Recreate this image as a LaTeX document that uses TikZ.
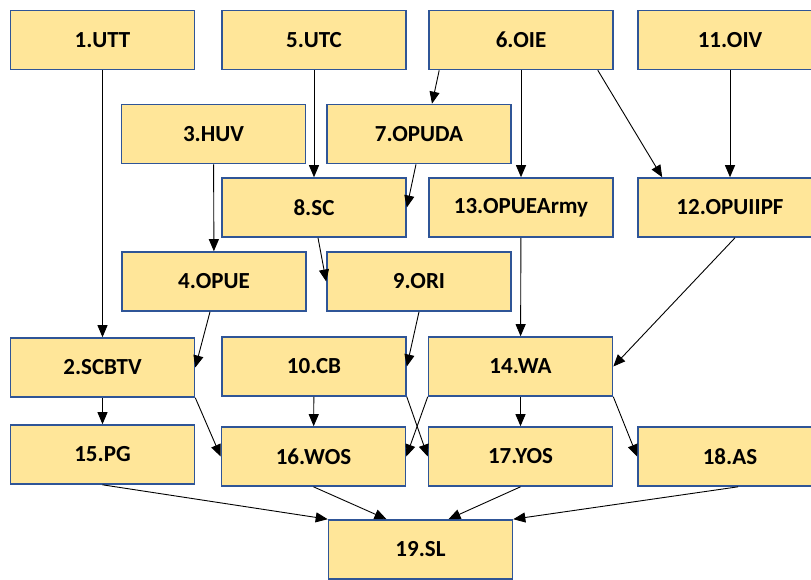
\documentclass[tikz,border=0pt]{standalone}
\usepackage{fontspec}
\setmainfont{Carlito}
\usepackage{tikz}
\usetikzlibrary{arrows.meta}
\definecolor{BoxGold}{RGB}{255,230,153}
\definecolor{BoxBlue}{RGB}{47,85,151}

\begin{document}
\begin{tikzpicture}[
    x=1pt, y=-1pt,
    box/.style={rectangle, draw=BoxBlue, fill=BoxGold, line width=1.6pt,
                minimum width=184pt, minimum height=59pt, inner sep=0pt,
                font=\fontsize{23}{27}\selectfont\bfseries},
    arr/.style={-{Triangle[length=12pt,width=10pt]}, line width=0.9pt, black}
]
\useasboundingbox (0,0) rectangle (811,579);
\fill[white] (0,0) rectangle (811,579);
% top row
\node[box] (n1) at (102.5,40) {1.UTT};
\node[box] (n5) at (314,40) {5.UTC};
\node[box] (n6) at (521,40) {6.OIE};
\node[box] (n11) at (730,40) {11.OIV};
% middle rows
\node[box] (n3) at (213.5,134) {3.HUV};
\node[box] (n7) at (419,134) {7.OPUDA};
\node[box] (n8) at (314,207.5) {8.SC};
\node[box] (n13) at (521,207.5) {13.OPUEArmy};
\node[box] (n12) at (730,207.5) {12.OPUIIPF};
\node[box] (n4) at (214,281.5) {4.OPUE};
\node[box] (n9) at (419,281.5) {9.ORI};
\node[box] (n2) at (102.5,367.5) {2.SCBTV};
\node[box] (n10) at (314,366.5) {10.CB};
\node[box] (n14) at (520.5,366.5) {14.WA};
% bottom rows
\node[box] (n15) at (102.5,454.5) {15.PG};
\node[box] (n16) at (313.5,456.5) {16.WOS};
\node[box] (n17) at (520.5,456.5) {17.YOS};
\node[box] (n18) at (730,456.5) {18.AS};
\node[box] (n19) at (420.5,549.5) {19.SL};
% straight down
\draw[arr] (n1) -- (n2);
\draw[arr] (n5) -- (n8);
\draw[arr] (n3) -- (n4);
\draw[arr] (n6) -- (n13);
\draw[arr] (n11) -- (n12);
\draw[arr] (n13) -- (n14);
\draw[arr] (n2) -- (n15);
\draw[arr] (n10) -- (n16);
\draw[arr] (n14) -- (n17);
% slanted
\draw[arr] ([xshift=11pt]n6.south west) -- ([xshift=13pt]n7.north);
\draw[arr] ([xshift=-3pt]n7.south) -- (n8.east);
\draw[arr] ([xshift=-16pt]n6.south east) -- ([xshift=25pt]n12.north west);
\draw[arr] ([xshift=4pt]n8.south) -- (n9.west);
\draw[arr] ([xshift=-4pt]n4.south) -- (n2.east);
\draw[arr] (n9.south) -- (n10.east);
\draw[arr] ([xshift=5pt]n12.south) -- (n14.east);
\draw[arr] (n2.south east) -- (n16.west);
\draw[arr] (n10.south east) -- (n17.west);
\draw[arr] (n14.south west) -- (n16.east);
\draw[arr] (n14.south east) -- (n18.west);
% into 19
\draw[arr] (n15.south) -- (n19.north west);
\draw[arr] (n16.south) -- ([xshift=-34pt]n19.north);
\draw[arr] (n17.south) -- ([xshift=28pt]n19.north);
\draw[arr] ([xshift=8pt]n18.south) -- (n19.north east);
\end{tikzpicture}
\end{document}
